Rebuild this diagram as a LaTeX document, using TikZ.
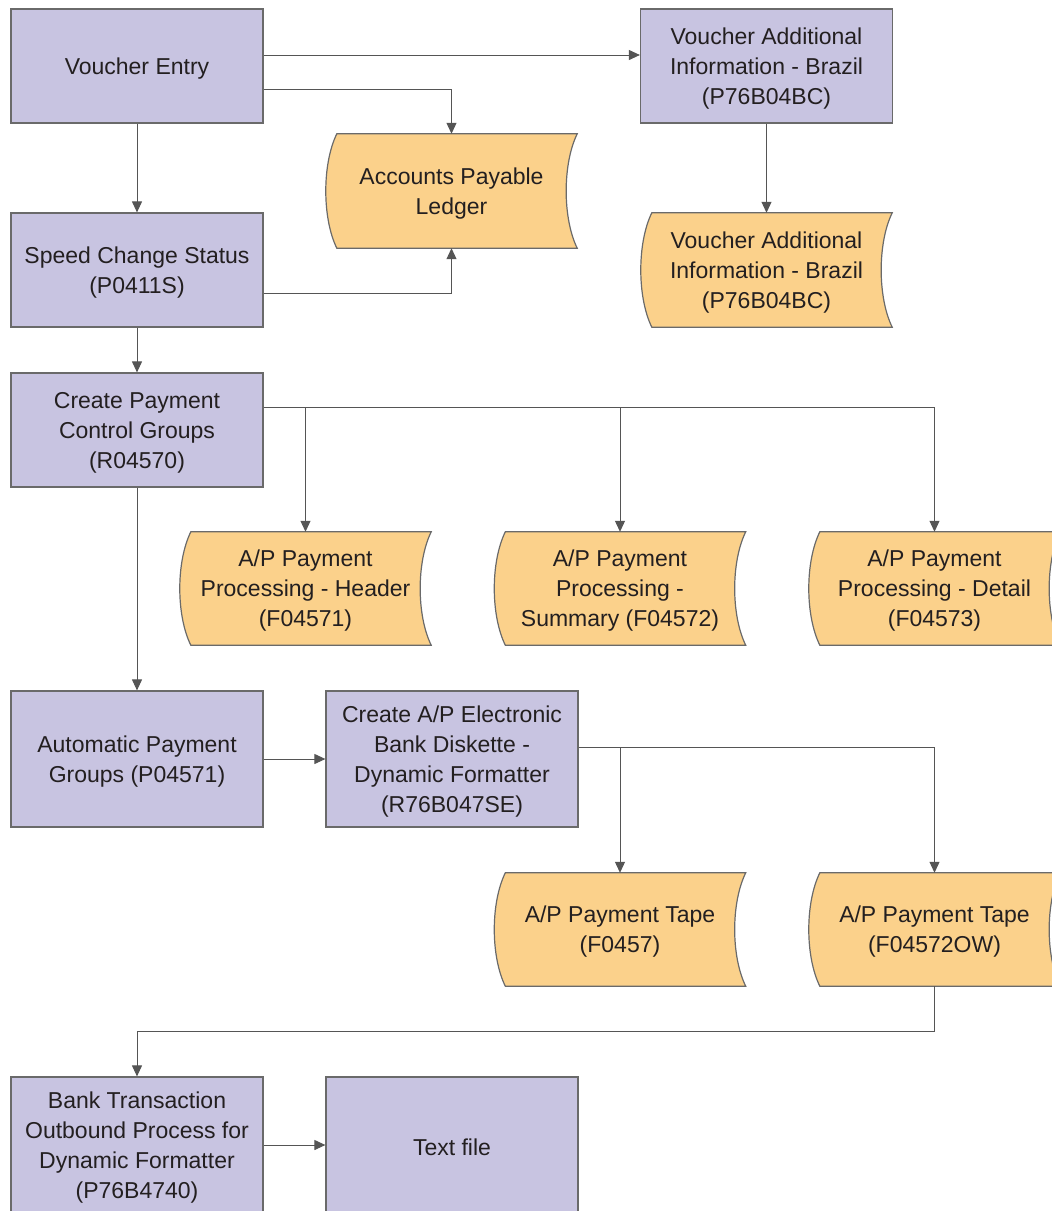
\documentclass[tikz,border=0pt]{standalone}
\usepackage{fontspec}
\setmainfont{Liberation Sans}
\usetikzlibrary{arrows.meta}
\definecolor{procfill}{HTML}{C8C4E1}
\definecolor{storefill}{HTML}{FBD18B}
\definecolor{edge}{HTML}{6A6A6A}
\definecolor{txt}{HTML}{231F20}
\definecolor{wire}{HTML}{555555}
\tikzset{
  proc/.style={draw=edge, line width=1.2pt, fill=procfill, minimum width=252pt, minimum height=114pt, inner sep=0pt},
  store/.style={minimum width=251pt, minimum height=114pt, inner sep=0pt},
  lbl/.style={align=center, text=txt, font=\fontsize{23}{30}\selectfont, inner sep=0pt},
  arr/.style={draw=wire, line width=1pt, -{Triangle[length=11pt,width=10pt]}}
}
% text placed on a named node, slightly lowered
\newcommand{\boxtext}[2]{\node[lbl] at ([yshift=-2.5pt]#1.center) {#2};}
% data-store outline drawn from a named node
\newcommand{\storeshape}[1]{%
  \path[draw=edge, line width=1.2pt, fill=storefill]
    ([xshift=11pt]#1.north west) -- (#1.north east)
    .. controls ([xshift=-14.7pt,yshift=-30pt]#1.north east) and ([xshift=-14.7pt,yshift=30pt]#1.south east) .. (#1.south east)
    -- ([xshift=11pt]#1.south west)
    .. controls ([xshift=-3.7pt,yshift=30pt]#1.south west) and ([xshift=-3.7pt,yshift=-30pt]#1.north west) .. ([xshift=11pt]#1.north west) -- cycle;}
\begin{document}
\begin{tikzpicture}[x=1pt,y=1pt]
\useasboundingbox (0,0) rectangle (1052,-1211);
% process boxes
\node[proc] (ve) at (137,-66) {};
\node[proc] (vab) at (766.5,-66) {};
\node[proc] (scs) at (137,-270) {};
\node[proc] (cpcg) at (137,-430) {};
\node[proc, minimum height=136pt] (apg) at (137,-759) {};
\node[proc, minimum height=136pt] (cae) at (452,-759) {};
\node[proc, minimum height=136pt] (bto) at (137,-1145) {};
\node[proc, minimum height=136pt] (tf) at (452,-1145) {};
\boxtext{ve}{Voucher Entry}
\boxtext{vab}{Voucher Additional\\Information - Brazil\\(P76B04BC)}
\boxtext{scs}{Speed Change Status\\(P0411S)}
\boxtext{cpcg}{Create Payment\\Control Groups\\(R04570)}
\boxtext{apg}{Automatic Payment\\Groups (P04571)}
\boxtext{cae}{Create A/P Electronic\\Bank Diskette -\\Dynamic Formatter\\(R76B047SE)}
\boxtext{bto}{Bank Transaction\\Outbound Process for\\Dynamic Formatter\\(P76B4740)}
\boxtext{tf}{Text file}
% data stores
\node[store] (apl) at (451.5,-191) {};
\node[store] (vabd) at (766.5,-270) {};
\node[store, minimum height=113pt] (hdr) at (305.5,-588.5) {};
\node[store, minimum height=113pt] (sum) at (620,-588.5) {};
\node[store, minimum height=113pt] (det) at (934.5,-588.5) {};
\node[store, minimum height=113pt] (tp1) at (620,-929.5) {};
\node[store, minimum height=113pt] (tp2) at (934.5,-929.5) {};
\storeshape{apl}\storeshape{vabd}\storeshape{hdr}\storeshape{sum}\storeshape{det}\storeshape{tp1}\storeshape{tp2}
\boxtext{apl}{Accounts Payable\\Ledger}
\boxtext{vabd}{Voucher Additional\\Information - Brazil\\(P76B04BC)}
\boxtext{hdr}{A/P Payment\\Processing - Header\\(F04571)}
\boxtext{sum}{A/P Payment\\Processing -\\Summary (F04572)}
\boxtext{det}{A/P Payment\\Processing - Detail\\(F04573)}
\boxtext{tp1}{A/P Payment Tape\\(F0457)}
\boxtext{tp2}{A/P Payment Tape\\(F04572OW)}
% connectors
\draw[arr] ([yshift=11pt]ve.east) -- ([yshift=11pt]vab.west);
\draw[arr] ([yshift=-23pt]ve.east) -| (apl.north);
\draw[arr] (ve.south) -- (scs.north);
\draw[arr] ([yshift=-23pt]scs.east) -| (apl.south);
\draw[arr] (scs.south) -- (cpcg.north);
\draw[arr] (vab.south) -- (vabd.north);
\draw[arr] ([yshift=23pt]cpcg.east) -| (hdr.north);
\draw[arr] ([yshift=23pt]cpcg.east) -| (sum.north);
\draw[arr] ([yshift=23pt]cpcg.east) -| (det.north);
\draw[arr] (cpcg.south) -- (apg.north);
\draw[arr] (apg.east) -- (cae.west);
\draw[arr] ([yshift=12pt]cae.east) -| (tp1.north);
\draw[arr] ([yshift=12pt]cae.east) -| (tp2.north);
\draw[arr] (tp2.south) -- ++(0,-45) -| (bto.north);
\draw[arr] (bto.east) -- (tf.west);
\end{tikzpicture}
\end{document}
